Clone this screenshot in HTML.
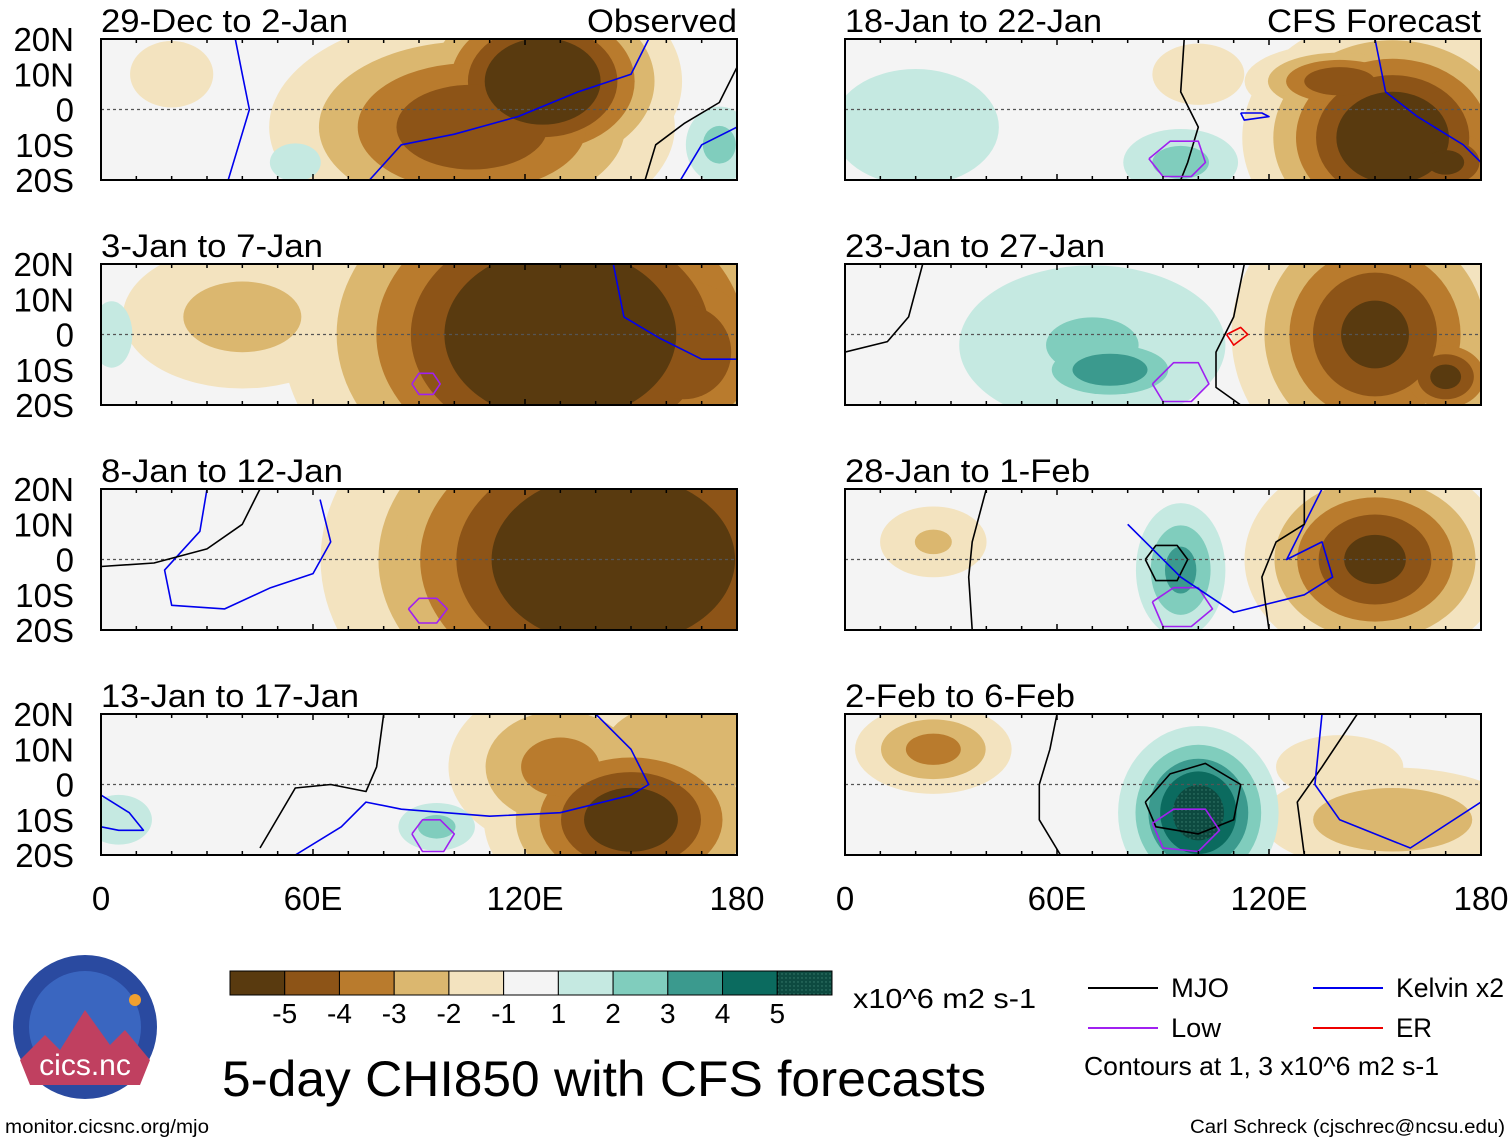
<!DOCTYPE html>
<html><head><meta charset="utf-8"><style>
body{margin:0;background:#fff;}
svg{display:block;font-family:"Liberation Sans",Arial,sans-serif;}
</style></head><body>
<svg id="fig" width="1510" height="1142" viewBox="0 0 1510 1142" xmlns="http://www.w3.org/2000/svg">
<defs>
<pattern id="dots" width="4" height="4" patternUnits="userSpaceOnUse"><rect width="4" height="4" fill="#0d4a40"/><circle cx="2" cy="2" r="0.7" fill="#3a8070"/></pattern>
</defs>
<g id="panels"></g>
<g id="bottom"></g>
</svg>
<script>
// ---- data ----
const panelTitles=["29-Dec to 2-Jan","3-Jan to 7-Jan","8-Jan to 12-Jan","13-Jan to 17-Jan","18-Jan to 22-Jan","23-Jan to 27-Jan","28-Jan to 1-Feb","2-Feb to 6-Feb"];
const latTicks=[20,10,0,-10,-20];
const latLabels=["20N","10N","0","10S","20S"];
const lonTicks=[0,60,120,180];
const lonLabels=["0","60E","120E","180"];
const levels=[-5,-4,-3,-2,-1,1,2,3,4,5];
const levelColors=["#593a0f","#8d5417","#b97b2d","#dbb76f","#f3e3bf","#f4f4f4","#c5e9e1","#80cdbd","#3b9a8e","#0b6b5f","url(#dots)"];
// blobs per panel: lon, lat, rx(deg), ry(deg), amplitude
const blobLon=[
 [125,105,20,175,55],[130,165,40,3],[145,100,75],[150,130,165,5,95],
 [155,140,100,20,95,170],[150,170,75,70],[150,95,25],[100,25,155,140]];
const blobLat=[
 [8,-5,10,-10,-15],[0,-5,5,0],[0,5,5],[-10,5,10,-10,-12],
 [-8,8,10,-5,-15,-15],[0,-12,-10,-3],[0,-3,5],[-8,10,-10,5]];
const blobRx=[
 [20,32,10,7,8],[40,20,25,5],[42,15,10],[22,20,25,8,8],
 [22,15,12,20,12,12],[22,10,14,30],[20,8,12],[12,14,25,20]];
const blobRy=[
 [15,18,8,8,6],[30,20,15,8],[30,15,10],[15,15,15,6,5],
 [18,6,8,14,7,8],[22,8,6,18],[16,12,8],[13,8,10,10]];
const blobAmp=[
 [-7,-5,-2,2.5,1.5],[-7,-5,-2.5,2],[-7,-3,-1.8],[-6,-3.5,-3,2,2.5],
 [-6.5,-5,-1.8,2,2.5,-5.5],[-5.5,-5.5,4,2.2],[-5.5,3.5,-2.2],[6,-3.5,-3,-1.5]];
// contour lines per panel
const contours=[
 [{t:"kelvin",lon:[38,40,42,39,36],lat:[20,10,0,-10,-20]},{t:"kelvin",lon:[76,85,100,118,135,150,155],lat:[-20,-10,-7,-2,5,10,20]},{t:"mjo",lon:[154,157,165,175,180],lat:[-20,-10,-4,2,12]},{t:"kelvin",lon:[164,170,180],lat:[-20,-10,-5]}],
 [{t:"kelvin",lon:[145,148,158,170,180],lat:[20,5,-1,-7,-7]},{t:"low",lon:[88,90,94,96,94,90,88],lat:[-14,-11,-11,-14,-17,-17,-14]}],
 [{t:"kelvin",lon:[30,28,18,20,35,48,60,65,62],lat:[20,8,-3,-13,-14,-8,-4,5,17]},{t:"mjo",lon:[0,15,30,40,45],lat:[-2,-1,3,10,20]},{t:"low",lon:[87,90,95,98,95,90,87],lat:[-14,-11,-11,-14,-18,-18,-14]}],
 [{t:"mjo",lon:[45,55,65,75,78,80],lat:[-18,-1,0,-2,5,20]},{t:"kelvin",lon:[55,68,75,85,110,130,150,155,150,140,145],lat:[-20,-12,-5,-7,-9,-8,-3,0,10,20,20]},{t:"low",lon:[88,91,96,100,97,91,88],lat:[-14,-10,-10,-14,-19,-19,-14]},{t:"kelvin",lon:[0,8,12,5,0],lat:[-3,-8,-13,-13,-12]}],
 [{t:"mjo",lon:[96,95,100,97,95],lat:[20,5,-5,-15,-20]},{t:"low",lon:[86,92,100,102,98,90,86],lat:[-14,-9,-9,-15,-19,-19,-14]},{t:"kelvin",lon:[150,153,162,175,180],lat:[20,5,-2,-10,-15]},{t:"kelvin",lon:[112,118,120,113,112],lat:[-1,-1,-2,-3,-1]}],
 [{t:"mjo",lon:[0,12,18,22],lat:[-5,-2,5,20]},{t:"low",lon:[87,93,100,103,98,90,87],lat:[-14,-8,-8,-14,-19,-19,-14]},{t:"mjo",lon:[113,110,105,105,112],lat:[20,5,-5,-15,-20]},{t:"er",lon:[108,112,114,110,108],lat:[0,2,0,-3,0]}],
 [{t:"mjo",lon:[36,35,36,40],lat:[-20,-5,5,20]},{t:"mjo",lon:[85,88,94,97,94,88,85],lat:[0,4,4,0,-6,-6,0]},{t:"low",lon:[87,93,100,104,98,90,87],lat:[-12,-8,-8,-14,-19,-19,-12]},{t:"kelvin",lon:[80,95,110,130,138,135,125,130,135],lat:[10,-5,-15,-10,-5,5,0,10,20]},{t:"mjo",lon:[120,118,122,130,130],lat:[-20,-5,5,10,20]}],
 [{t:"mjo",lon:[61,55,55,58,60],lat:[-20,-10,0,10,20]},{t:"mjo",lon:[85,92,102,112,110,100,88,85],lat:[-5,3,6,0,-10,-14,-12,-5]},{t:"low",lon:[87,93,102,106,100,90,87],lat:[-11,-7,-7,-13,-19,-18,-11]},{t:"mjo",lon:[130,128,135,145],lat:[-20,-5,5,20]},{t:"kelvin",lon:[135,133,140,160,180],lat:[20,0,-10,-18,-5]}]
];
const lineColors={mjo:"#000",kelvin:"#0000ee",low:"#a020f0",er:"#ee0000"};
// ---- layout ----
const NS="http://www.w3.org/2000/svg";
const colX=[101,845], rowY=[39,264,489,714], PW=636, PH=141;
function mk(tag,attrs,parent){const e=document.createElementNS(NS,tag);for(const k in attrs)e.setAttribute(k,attrs[k]);parent.appendChild(e);return e;}
const root=document.getElementById('panels');
for(let p=0;p<8;p++){
 const x0=colX[p<4?0:1], y0=rowY[p%4];
 const sx=lon=>x0+lon/180*PW, sy=lat=>y0+(20-lat)/40*PH;
 const g=mk('g',{},root);
 
 
 const cid='clip'+p;
 const cp=mk('clipPath',{id:cid},g);mk('rect',{x:x0,y:y0,width:PW,height:PH},cp);
 const fg=mk('g',{'clip-path':`url(#${cid})`},g);
 mk('rect',{x:x0,y:y0,width:PW,height:PH,fill:levelColors[5]},fg);
 for(const sign of [-1,1]){
  const ls=sign<0?[-1,-2,-3,-4,-5]:[1,2,3,4,5];
  ls.forEach(L=>{
   blobAmp[p].forEach((a,i)=>{
    if(Math.sign(a)!==sign||Math.abs(a)<=Math.abs(L))return;
    const r=Math.sqrt(2*Math.log(a/L));
    const idx=5+L;
    const el=mk('ellipse',{cx:sx(blobLon[p][i]),cy:sy(blobLat[p][i]),rx:blobRx[p][i]*r*PW/180,ry:blobRy[p][i]*r*PH/40,fill:levelColors[idx]},fg);
    
    
   });
  });
 }
 mk('line',{x1:x0,x2:x0+PW,y1:sy(0),y2:sy(0),stroke:'#555','stroke-width':1.2,'stroke-dasharray':'3,3'},fg);
 contours[p].forEach(c=>{
  const d=c.lon.map((l,i)=>(i?'L':'M')+sx(l).toFixed(1)+','+sy(c.lat[i]).toFixed(1)).join('');
  const el=mk('path',{d:d,fill:'none',stroke:lineColors[c.t],'stroke-width':1.6,'stroke-linejoin':'round'},fg);
  
  
 });
 mk('rect',{x:x0,y:y0,width:PW,height:PH,fill:'none',stroke:'#000','stroke-width':2},g);
 for(let l=0;l<=180;l+=10){const h=l%60===0?6:4;mk('line',{x1:sx(l),x2:sx(l),y1:y0,y2:y0+h,stroke:'#000','stroke-width':1.5},g);mk('line',{x1:sx(l),x2:sx(l),y1:y0+PH,y2:y0+PH-h,stroke:'#000','stroke-width':1.5},g);}
 const tl={0:247,1:222,2:242,3:258,4:257,5:260,6:245,7:230}[p];
 const t=mk('text',{x:x0,y:y0-7,'font-size':32,fill:'#000',textLength:tl,lengthAdjust:'spacingAndGlyphs'},g);t.textContent=panelTitles[p];
 
 if(p===0){const o=mk('text',{x:x0+PW,y:y0-7,'font-size':32,'text-anchor':'end',textLength:150,lengthAdjust:'spacingAndGlyphs'},g);o.textContent='Observed';}
 if(p===4){const o=mk('text',{x:x0+PW,y:y0-7,'font-size':32,'text-anchor':'end',textLength:214,lengthAdjust:'spacingAndGlyphs'},g);o.textContent='CFS Forecast';}
 if(p<4){latTicks.forEach((lt,i)=>{const e=mk('text',{x:x0-27,y:sy(lt)+12,'font-size':33,'text-anchor':'end'},g);e.textContent=latLabels[i];
  });}
 if(p%4===3){lonTicks.forEach((ln,i)=>{const e=mk('text',{x:sx(ln),y:910,'font-size':33,'text-anchor':'middle'},g);e.textContent=lonLabels[i];
  });}
}
// ---- bottom ----
const b=document.getElementById('bottom');
const cbX=230,cbW=602/11;
const cb=mk('g',{},b);
levelColors.forEach((c,i)=>mk('rect',{x:cbX+i*cbW,y:971,width:cbW,height:24,fill:c,stroke:'#000','stroke-width':1},cb));
levels.forEach((l,i)=>{const e=mk('text',{x:cbX+(i+1)*cbW,y:1023,'font-size':28,'text-anchor':'middle'},cb);e.textContent=String(l);});
let e=mk('text',{x:853,y:1008,'font-size':28,textLength:183,lengthAdjust:'spacingAndGlyphs'},b);e.textContent='x10^6 m2 s-1';
e=mk('text',{x:222,y:1096,'font-size':50,textLength:764,lengthAdjust:'spacingAndGlyphs'},b);e.textContent='5-day CHI850 with CFS forecasts';

const leg=[["MJO","#000",1088,988,58],["Kelvin x2","#0000ee",1313,988,108],["Low","#a020f0",1088,1028,50],["ER","#ee0000",1313,1028,36]];
leg.forEach(L=>{const g=mk('g',{},b);
 mk('line',{x1:L[2],x2:L[2]+70,y1:L[3],y2:L[3],stroke:L[1],'stroke-width':2},g);
 const t=mk('text',{x:L[2]+83,y:L[3]+9,'font-size':27,textLength:L[4],lengthAdjust:'spacingAndGlyphs'},g);t.textContent=L[0];});
e=mk('text',{x:1084,y:1075,'font-size':26,textLength:355,lengthAdjust:'spacingAndGlyphs'},b);e.textContent='Contours at 1, 3 x10^6 m2 s-1';
e=mk('text',{x:5,y:1133,'font-size':19,textLength:204,lengthAdjust:'spacingAndGlyphs'},b);e.textContent='monitor.cicsnc.org/mjo';
e=mk('text',{x:1505,y:1133,'font-size':19,'text-anchor':'end',textLength:315,lengthAdjust:'spacingAndGlyphs'},b);e.textContent='Carl Schreck (cjschrec@ncsu.edu)';
const lg=mk('g',{},b);
mk('circle',{cx:85,cy:1027,r:72,fill:'#2a4aa0'},lg);
mk('circle',{cx:85,cy:1027,r:56,fill:'#3a66c0'},lg);
mk('path',{d:'M20,1060 L45,1035 L60,1050 L85,1010 L110,1045 L125,1030 L150,1060 L140,1085 L30,1085Z',fill:'#c04060'},lg);
mk('circle',{cx:135,cy:1000,r:6,fill:'#f0a030'},lg);
e=mk('text',{x:85,y:1075,'font-size':30,'text-anchor':'middle',fill:'#fff'},lg);e.textContent='cics.nc';
</script>
</body></html>
